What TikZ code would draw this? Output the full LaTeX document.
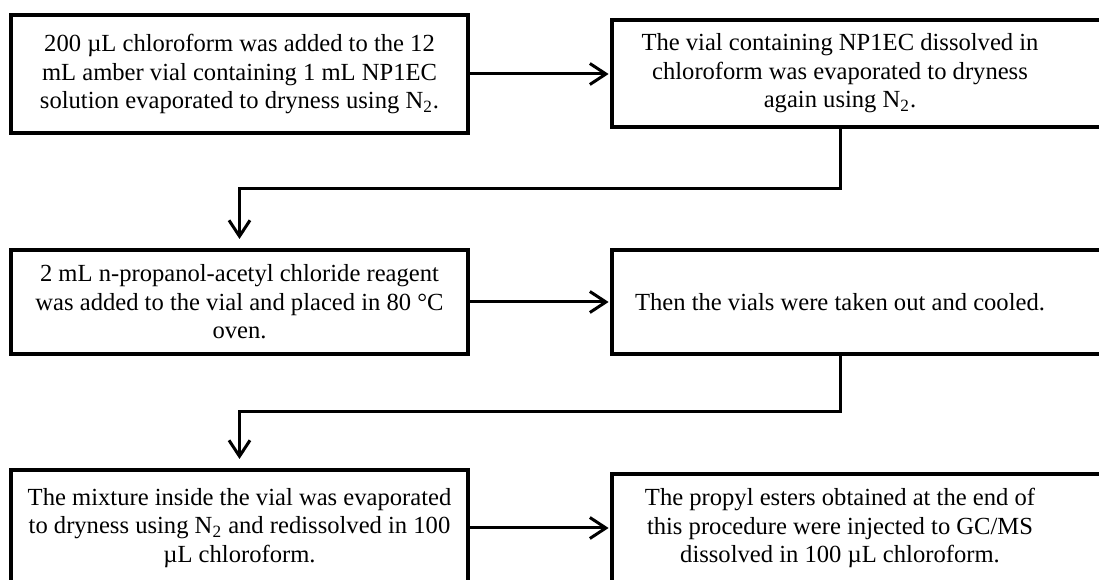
\documentclass[tikz,border=0pt]{standalone}
\usepackage{fontspec}
\setmainfont{Liberation Serif}
\usetikzlibrary{arrows.meta}
\tikzset{
  stepbox/.style={draw, line width=2pt, align=center, inner sep=0pt,
    minimum width=228.5pt, font=\fontsize{12.3}{14.2}\selectfont},
  steptext/.style={align=center, inner sep=0pt,
    minimum width=228pt, font=\fontsize{12.3}{14.2}\selectfont},
  boxline/.style={line width=2pt},
  flowarrow/.style={line width=1.5pt, -{Straight Barb[length=8pt,width=10.5pt]}}
}

\begin{document}
\begin{tikzpicture}[x=0.5pt,y=0.5pt]
  \useasboundingbox (0,0) rectangle (1099,579);

  % left column
  \node[stepbox, minimum height=59pt] (chloro) at (239.5,505)
    {200 µL chloroform was added to the 12\\ mL amber vial containing 1 mL NP1EC\\ solution evaporated to dryness using N\textsubscript{2}.};
  \node[stepbox, minimum height=52pt] (reagent) at (239.5,277)
    {2 mL n-propanol-acetyl chloride reagent\\ was added to the vial and placed in 80 °C\\ oven.};
  \node[stepbox, minimum height=58pt] (mixture) at (239.5,51)
    {The mixture inside the vial was evaporated\\ to dryness using N\textsubscript{2} and redissolved in 100\\ µL chloroform.};

  % right column (boxes run off the page)
  \node[steptext, minimum height=53.5pt] (vial) at (840,505.5)
    {The vial containing NP1EC dissolved in\\ chloroform was evaporated to dryness\\ again using N\textsubscript{2}.};
  \node[steptext, minimum height=52pt] (cooled) at (840,277)
    {Then the vials were taken out and cooled.};
  \node[steptext, minimum height=54pt] (esters) at (840,51)
    {The propyl esters obtained at the end of\\ this procedure were injected to GC/MS\\ dissolved in 100 µL chloroform.};
  \draw[boxline] (vial.north west) rectangle ([xshift=270pt]vial.south west);
  \draw[boxline] (cooled.north west) rectangle ([xshift=270pt]cooled.south west);
  \draw[boxline] (esters.north west) rectangle ([xshift=270pt]esters.south west);

  % connectors
  \coordinate (bend1) at (840,390);
  \coordinate (bend2) at (840,167);
  \draw[flowarrow, shorten >=1.5pt] (chloro.east) -- (chloro.east -| vial.west);
  \draw[flowarrow, shorten >=4.5pt] (vial.south) -- (bend1) -| (reagent.north);
  \draw[flowarrow, shorten >=1.5pt] (reagent.east) -- (reagent.east -| cooled.west);
  \draw[flowarrow, shorten >=4.5pt] (cooled.south) -- (bend2) -| (mixture.north);
  \draw[flowarrow, shorten >=1.5pt] (mixture.east) -- (mixture.east -| esters.west);
\end{tikzpicture}
\end{document}
